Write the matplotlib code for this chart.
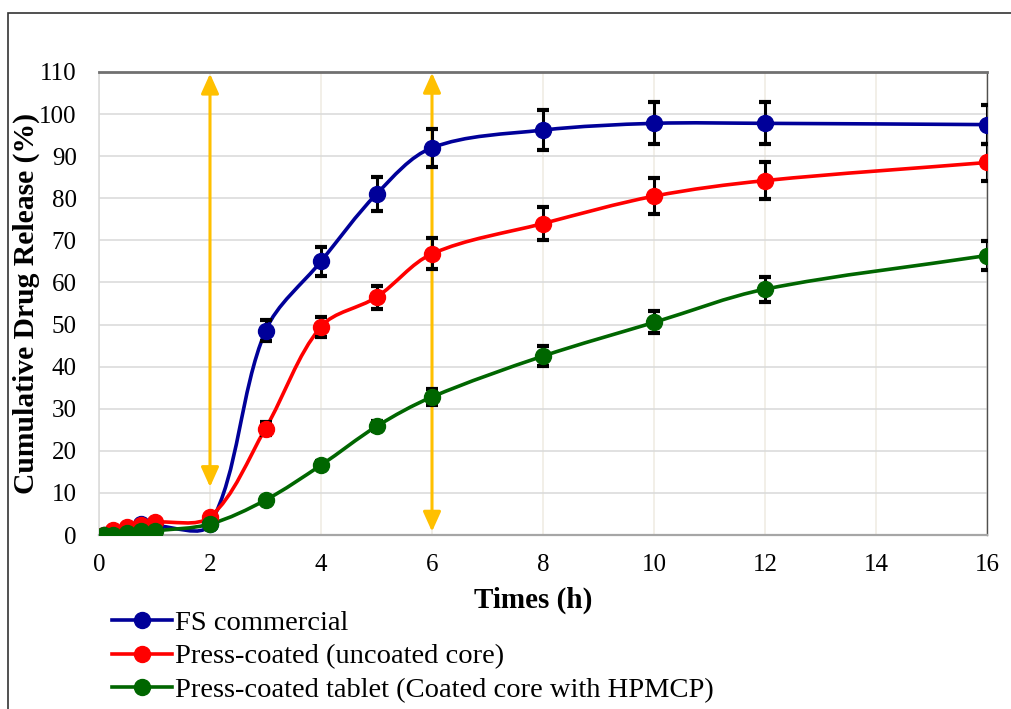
import numpy as np
import matplotlib
matplotlib.use("Agg")
import matplotlib.pyplot as plt
from matplotlib.path import Path
from matplotlib.patches import PathPatch, Rectangle, ArrowStyle
from matplotlib.lines import Line2D

plt.rcParams['font.family'] = ['Liberation Serif', 'DejaVu Serif']

# ---- data ----
hours = [0.083, 0.25, 0.5, 0.75, 1, 2, 3, 4, 5, 6, 8, 10, 12, 16]

fs_commercial = [0, 0.3, 1.5, 2.5, 2.2, 2.5, 48.5, 65.0, 81.0, 92.0, 96.2, 97.8, 97.8, 97.5]
fs_err = [0, 0, 0, 0, 0, 0, 2.5, 3.5, 4.0, 4.5, 4.8, 5.0, 5.0, 4.7]

uncoated = [0, 1.2, 1.8, 2.4, 3.0, 4.3, 25.3, 49.5, 56.5, 66.8, 74.0, 80.5, 84.2, 88.5]
uncoated_err = [0, 0, 0, 0, 0, 0, 1.5, 2.4, 2.7, 3.7, 4.0, 4.2, 4.4, 4.3]

hpmcp = [0, 0, 0.5, 0.9, 1.0, 2.6, 8.3, 16.6, 25.8, 32.8, 42.5, 50.5, 58.4, 66.4]
hpmcp_err = [0, 0, 0, 0, 0, 0, 0.8, 1.0, 1.2, 1.9, 2.4, 2.6, 3.0, 3.5]

labels = ["FS commercial", "Press-coated (uncoated core)",
          "Press-coated tablet (Coated core with HPMCP)"]
colors = ["#000099", "#ff0000", "#006600"]

# vertical double arrows: (x, y_low, y_high)
arrows = [(2, 11.4, 109.6), (6, 0.8, 109.8)]

ORANGE = "#ffc000"


def smooth_path(ax, x, y):
    """Excel-like smoothed line: cubic Bezier through the points, tangents
    chord-weighted in screen space."""
    P = ax.transData.transform(np.c_[x, y])
    n = len(P)
    out = []
    for i in range(n):
        prev = P[max(i - 1, 0)]
        nxt = P[min(i + 1, n - 1)]
        dp = np.linalg.norm(P[i] - prev)
        dn = np.linalg.norm(nxt - P[i])
        T = nxt - prev
        tot = dp + dn if dp + dn > 0 else 1.0
        out.append((P[i] - T * dp / tot / 3.0, P[i] + T * dn / tot / 3.0))
    verts = [P[0]]
    codes = [Path.MOVETO]
    for i in range(n - 1):
        verts += [out[i][1], out[i + 1][0], P[i + 1]]
        codes += [Path.CURVE4] * 3
    verts = ax.transData.inverted().transform(np.array(verts))
    return Path(verts, codes)


fig = plt.figure(figsize=(10.11, 7.09), dpi=100)
ax = fig.add_axes([99 / 1011, 1 - 535 / 709, 888 / 1011, 463 / 709])
ax.set_xlim(0, 16)
ax.set_ylim(0, 110)
ax.set_xticks(range(0, 17, 2))
ax.set_yticks(range(0, 111, 10))
ax.tick_params(axis='both', length=0, labelsize=18)
ax.tick_params(axis='x', pad=14)
ax.tick_params(axis='y', pad=16)

ax.yaxis.grid(True, color="#d9d9d9", lw=1.1, zorder=0)
ax.xaxis.grid(True, color="#efebe1", lw=1.1, zorder=0)
ax.set_axisbelow(True)
ax.spines['top'].set_color("#707070"); ax.spines['top'].set_linewidth(2)
ax.spines['right'].set_color("#505050"); ax.spines['right'].set_linewidth(1)
ax.spines['bottom'].set_color("#a6a6a6"); ax.spines['bottom'].set_linewidth(1.6)
ax.spines['left'].set_color("#d9d9d9"); ax.spines['left'].set_linewidth(1.1)

for xa, y0, y1 in arrows:
    ax.annotate('', xy=(xa, y0), xytext=(xa, y1),
                arrowprops=dict(arrowstyle=ArrowStyle('<|-|>', head_length=0.4, head_width=0.18),
                                color=ORANGE, lw=2.2, mutation_scale=30,
                                shrinkA=0, shrinkB=0), zorder=2)

series = [(fs_commercial, fs_err), (uncoated, uncoated_err), (hpmcp, hpmcp_err)]
handles = []
for (vals, err), col, lab in zip(series, colors, labels):
    ax.add_patch(PathPatch(smooth_path(ax, hours, vals), fill=False, edgecolor=col,
                           lw=2.6, zorder=3))
    x = np.array(hours); v = np.array(vals); e = np.array(err)
    m = e > 0
    ax.errorbar(x[m], v[m], yerr=e[m], fmt='none', ecolor='black', elinewidth=2.2,
                capsize=4.5, capthick=3, zorder=4)
    ax.plot(hours, vals, 'o', color=col, ms=11.5, zorder=5)
    handles.append(Line2D([], [], color=col, lw=2.6, marker='o', ms=11.5))

ax.set_xlabel("Times (h)", fontsize=21, fontweight='bold')
ax.xaxis.set_label_coords(0.489, -0.112)
ax.set_ylabel("Cumulative Drug Release (%)", fontsize=21.3, fontweight='bold')
ax.yaxis.set_label_coords(-0.066, 0.5)

fig.legend(handles, labels, loc='upper left', bbox_to_anchor=(112 / 1011, 1 - 610 / 709),
           frameon=False, fontsize=20.5, handlelength=2.1, handletextpad=0.12,
           labelspacing=0.27, borderpad=0, borderaxespad=0)

# outer chart frame (partly cropped in the original)
fig.add_artist(Rectangle((8 / 1011, -0.1), 1.2, 1.1 - 13 / 709, transform=fig.transFigure,
                         fill=False, edgecolor="#333333", lw=1.2))

fig.savefig("out.png", dpi=100)
